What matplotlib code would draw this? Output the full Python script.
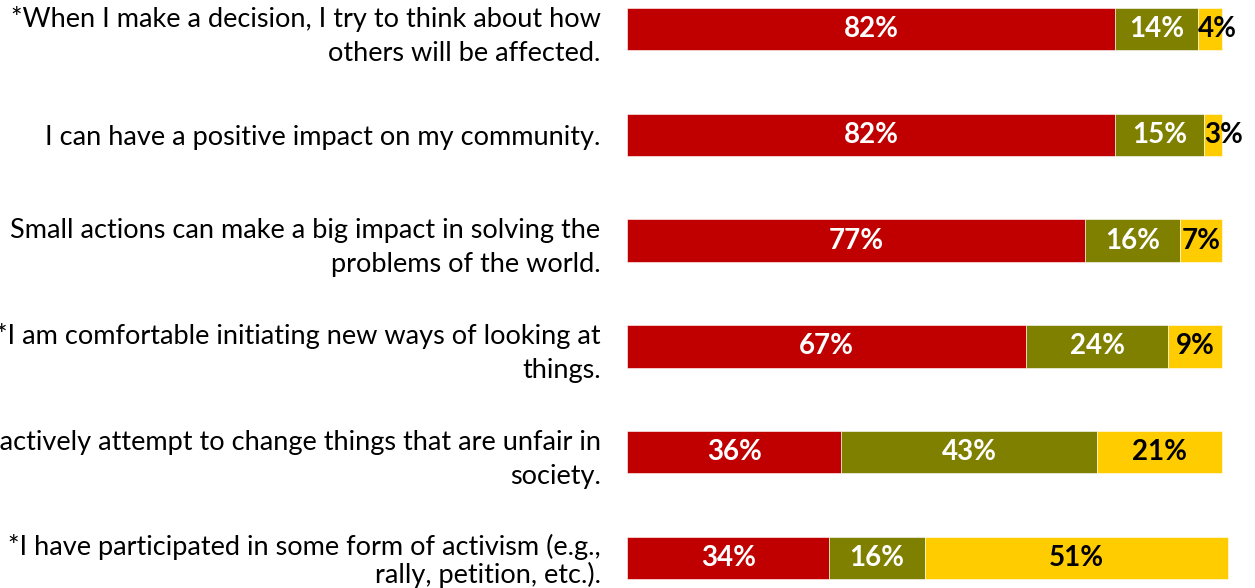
import matplotlib
matplotlib.use("Agg")
import matplotlib.pyplot as plt
import numpy as np

statements = [
    "*When I make a decision, I try to think about how\nothers will be affected.",
    "I can have a positive impact on my community.",
    "Small actions can make a big impact in solving the\nproblems of the world.",
    "*I am comfortable initiating new ways of looking at\nthings.",
    "I actively attempt to change things that are unfair in\nsociety.",
    "*I have participated in some form of activism (e.g.,\nrally, petition, etc.).",
]
agree = [82, 82, 77, 67, 36, 34]
neutral = [14, 15, 16, 24, 43, 16]
disagree = [4, 3, 7, 9, 21, 51]

series = [
    (agree, "#C00000", "white"),
    (neutral, "#808000", "white"),
    (disagree, "#FFCC00", "black"),
]

plt.rcParams["font.family"] = ["Lato", "DejaVu Sans"]

fig = plt.figure(figsize=(12.55, 5.88), dpi=100)
ax = fig.add_axes([627 / 1255, 0, (1222 - 627) / 1255, 1])

y = np.arange(len(statements))
left = np.zeros(len(statements))
for vals, color, txtcolor in series:
    vals = np.array(vals, dtype=float)
    bars = ax.barh(y, vals, left=left, height=0.4, color=color,
                   edgecolor="white", linewidth=0.4, clip_on=False)
    for b, v in zip(bars, vals):
        yc = b.get_y() + b.get_height() / 2
        if v < 5:
            # narrow slice: label starts at the slice and runs past it
            ax.text(b.get_x(), yc, f"{int(v)}%", ha="left", va="center",
                    color=txtcolor, fontsize=20, fontweight="bold",
                    clip_on=False)
        else:
            ax.text(b.get_x() + b.get_width() / 2, yc, f"{int(v)}%",
                    ha="center", va="center", color=txtcolor,
                    fontsize=20, fontweight="bold", clip_on=False)
    left += vals

ax.set_xlim(0, 100)
ax.set_ylim(5.284, -0.274)
ax.set_yticks(y)
ax.set_yticklabels(statements, fontsize=19.5)
labels = ax.get_yticklabels()
for lab in labels:
    lab.set_multialignment("right")
    lab.set_linespacing(1.45)
# the bottom statement sits tighter so it stays inside the figure
labels[-1].set_linespacing(1.05)
ax.tick_params(axis="y", length=0, pad=19)
ax.tick_params(axis="x", bottom=False, labelbottom=False)
for s in ax.spines.values():
    s.set_visible(False)

fig.savefig("out.png", dpi=100)
